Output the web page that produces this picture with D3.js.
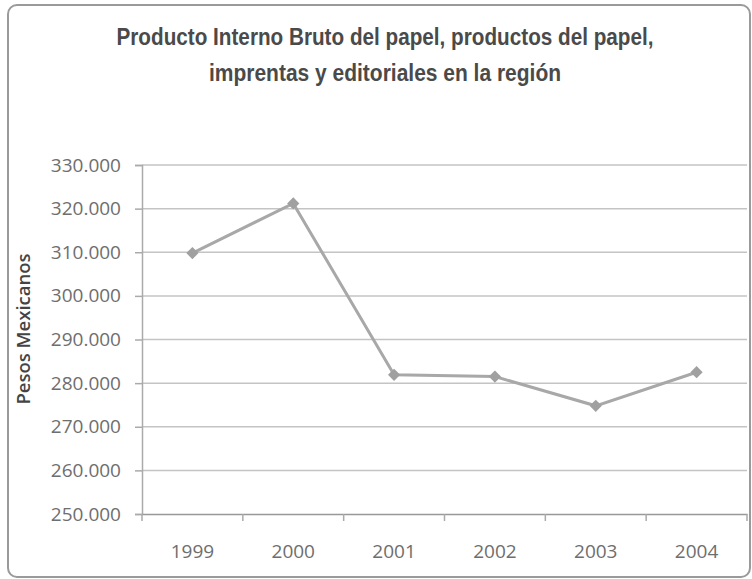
<!DOCTYPE html>
<html><head><meta charset="utf-8">
<script src="https://cdn.jsdelivr.net/npm/d3@7"></script>
<style>html,body{margin:0;padding:0;background:#fff;}svg{display:block;}</style>
</head><body>
<script>
const years = ["1999","2000","2001","2002","2003","2004"];
const values = [309.8, 321.2, 281.9, 281.5, 274.8, 282.5];
const yTicks = [250,260,270,280,290,300,310,320,330];
const titleLines = ["Producto Interno Bruto del papel, productos del papel,", "imprentas y editoriales en la región"];
const yLabel = "Pesos Mexicanos";

const W = 752, H = 579;
const svg = d3.select("body").append("svg").attr("width", W).attr("height", H);
svg.append("rect").attr("x",8).attr("y",5).attr("width",742).attr("height",572)
  .attr("rx",9).attr("fill","#fff").attr("stroke","#9a9a9a").attr("stroke-width",2);

const pL = 142, pR = 747, pT = 165, pB = 514;
const x = d3.scaleBand().domain(years).range([pL, pR]);
const y = d3.scaleLinear().domain([250,330]).range([pB, pT]);

// gridlines
svg.append("g").selectAll("line").data(yTicks.filter(d=>d>250)).join("line")
  .attr("x1", pL).attr("x2", pR).attr("y1", d=>y(d)).attr("y2", d=>y(d))
  .attr("stroke","#c4c4c4").attr("stroke-width",1.5);

// y axis
const yAxis = svg.append("g").attr("transform",`translate(${pL},0)`)
  .call(d3.axisLeft(y).tickValues(yTicks).tickSize(7).tickPadding(14)
    .tickFormat(d=>d3.format(".3f")(d)));
yAxis.select(".domain").attr("stroke","#aaa").attr("stroke-width",1.5);
yAxis.selectAll(".tick line").attr("stroke","#aaa").attr("stroke-width",1.5);
yAxis.selectAll("text").attr("fill","#6e6e6e").style("font-family","'Open Sans'").style("font-size","19px");

// x axis
const xAxis = svg.append("g").attr("transform",`translate(0,${pB})`)
  .call(d3.axisBottom(x).tickSize(0).tickPadding(31));
xAxis.select(".domain").attr("stroke","#999").attr("stroke-width",1.5);
xAxis.selectAll("text").attr("fill","#6e6e6e").style("font-family","'Open Sans'").style("font-size","19px");
// category boundary ticks
svg.append("g").selectAll("line").data(years.concat(["end"])).join("line")
  .attr("x1",(d,i)=>pL + i*x.step()).attr("x2",(d,i)=>pL + i*x.step())
  .attr("y1",pB).attr("y2",pB+7).attr("stroke","#aaa").attr("stroke-width",1.5);

// line
const cx = d => x(d) + x.bandwidth()/2;
svg.append("path").datum(values)
  .attr("d", d3.line().x((d,i)=>cx(years[i])).y(d=>y(d)))
  .attr("fill","none").attr("stroke","#a8a8a8").attr("stroke-width",3);
svg.append("g").selectAll("path").data(values).join("path")
  .attr("transform",(d,i)=>`translate(${cx(years[i])},${y(d)})`)
  .attr("d", d3.symbol().type(d3.symbolDiamond2).size(95))
  .attr("fill","#a0a0a0");

// title
const titleWidths = [537, 352];
svg.append("text").attr("x",385).attr("y",45).attr("text-anchor","middle")
  .style("font-family","'Liberation Sans', sans-serif").style("font-weight","bold")
  .style("font-size","23px").attr("fill","#4a4a4a")
  .selectAll("tspan").data(titleLines).join("tspan")
  .attr("x",385).attr("dy",(d,i)=>i?36:0)
  .attr("textLength",(d,i)=>titleWidths[i]).attr("lengthAdjust","spacingAndGlyphs")
  .text(d=>d);

// y label
svg.append("text").attr("transform","translate(30,329) rotate(-90)").attr("text-anchor","middle")
  .style("font-family","'Open Sans'").style("font-weight","600").style("font-size","18.5px")
  .attr("fill","#444").text(yLabel);
</script>
</body></html>
